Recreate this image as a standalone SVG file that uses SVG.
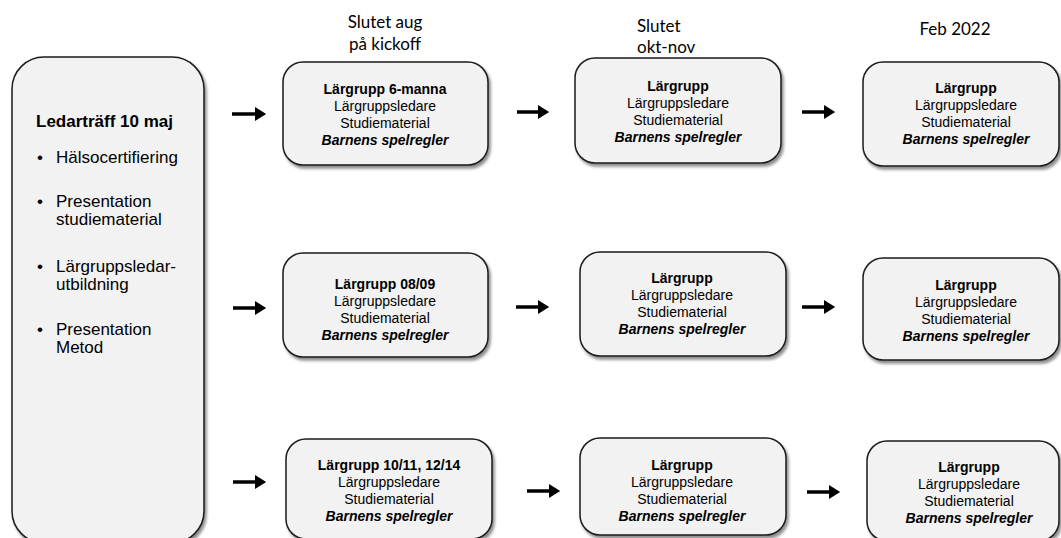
<svg xmlns="http://www.w3.org/2000/svg" width="1061" height="538" viewBox="0 0 1061 538">
<defs>
<filter id="sh" x="-10%" y="-10%" width="125%" height="125%">
<feGaussianBlur in="SourceAlpha" stdDeviation="1.5"/>
<feOffset dx="1.5" dy="2.5" result="b"/>
<feComponentTransfer><feFuncA type="linear" slope="0.45"/></feComponentTransfer>
<feMerge><feMergeNode/><feMergeNode in="SourceGraphic"/></feMerge>
</filter>
<marker id="ah" markerWidth="4" markerHeight="4" refX="0" refY="2" orient="auto" markerUnits="strokeWidth">
<path d="M0,0 L3.2,2 L0,4 Z" fill="#000"/>
</marker>
<style>
.box{fill:#f2f2f2;stroke:#1a1a1a;stroke-width:1.5;filter:url(#sh)}
.t{font-family:"Liberation Sans",Arial,sans-serif;font-size:14px;fill:#000;text-anchor:middle}
.b{font-weight:bold}
.bi{font-weight:bold;font-style:italic}
.h{font-family:Lato,"Open Sans",sans-serif;font-size:17px;fill:#000}
.l{font-family:"Liberation Sans",Arial,sans-serif;font-size:17px;fill:#000}
.arr{stroke:#000;stroke-width:3.5;fill:none;marker-end:url(#ah)}
</style>
</defs>
<rect width="1061" height="538" fill="#fff"/>

<g id="headers">
<text class="h" x="385" y="28" text-anchor="middle">Slutet aug</text>
<text class="h" x="385" y="50" text-anchor="middle">på kickoff</text>
<text class="h" x="637" y="32">Slutet</text>
<text class="h" x="637" y="53">okt-nov</text>
<text class="h" x="955" y="35" text-anchor="middle">Feb 2022</text>
</g>

<g id="ledartraff">
<rect class="box" x="12" y="57" width="192" height="486" rx="32"/>
<text class="l" x="36" y="127" font-weight="bold">Ledarträff 10 maj</text>
<text class="l" x="37" y="163">•</text><text class="l" x="56" y="163">Hälsocertifiering</text>
<text class="l" x="37" y="207">•</text><text class="l" x="56" y="207">Presentation</text>
<text class="l" x="56" y="225">studiematerial</text>
<text class="l" x="37" y="272">•</text><text class="l" x="56" y="272">Lärgruppsledar-</text>
<text class="l" x="56" y="290">utbildning</text>
<text class="l" x="37" y="335">•</text><text class="l" x="56" y="335">Presentation</text>
<text class="l" x="56" y="353">Metod</text>
</g>

<g id="a1">
<rect class="box" x="283" y="62" width="205" height="103" rx="20"/>
<text class="t b" x="385" y="94">Lärgrupp 6-manna</text>
<text class="t" x="385" y="111">Lärgruppsledare</text>
<text class="t" x="385" y="128">Studiematerial</text>
<text class="t bi" x="385" y="145">Barnens spelregler</text>
</g>
<g id="b1">
<rect class="box" x="575" y="58" width="206" height="105" rx="20"/>
<text class="t b" x="678" y="91">Lärgrupp</text>
<text class="t" x="678" y="108">Lärgruppsledare</text>
<text class="t" x="678" y="125">Studiematerial</text>
<text class="t bi" x="678" y="142">Barnens spelregler</text>
</g>
<g id="c1">
<rect class="box" x="863" y="62" width="196" height="104" rx="20"/>
<text class="t b" x="966" y="93">Lärgrupp</text>
<text class="t" x="966" y="110">Lärgruppsledare</text>
<text class="t" x="966" y="127">Studiematerial</text>
<text class="t bi" x="966" y="144">Barnens spelregler</text>
</g>

<g id="a2">
<rect class="box" x="283" y="253" width="205" height="104" rx="20"/>
<text class="t b" x="385" y="289">Lärgrupp 08/09</text>
<text class="t" x="385" y="306">Lärgruppsledare</text>
<text class="t" x="385" y="323">Studiematerial</text>
<text class="t bi" x="385" y="340">Barnens spelregler</text>
</g>
<g id="b2">
<rect class="box" x="580" y="252" width="206" height="104" rx="20"/>
<text class="t b" x="682" y="283">Lärgrupp</text>
<text class="t" x="682" y="300">Lärgruppsledare</text>
<text class="t" x="682" y="317">Studiematerial</text>
<text class="t bi" x="682" y="334">Barnens spelregler</text>
</g>
<g id="c2">
<rect class="box" x="863" y="258" width="196" height="102" rx="20"/>
<text class="t b" x="966" y="290">Lärgrupp</text>
<text class="t" x="966" y="307">Lärgruppsledare</text>
<text class="t" x="966" y="324">Studiematerial</text>
<text class="t bi" x="966" y="341">Barnens spelregler</text>
</g>

<g id="a3">
<rect class="box" x="286" y="439" width="206" height="100" rx="20"/>
<text class="t b" x="389" y="470">Lärgrupp 10/11, 12/14</text>
<text class="t" x="389" y="487">Lärgruppsledare</text>
<text class="t" x="389" y="504">Studiematerial</text>
<text class="t bi" x="389" y="521">Barnens spelregler</text>
</g>
<g id="b3">
<rect class="box" x="580" y="438" width="206" height="97" rx="20"/>
<text class="t b" x="682" y="470">Lärgrupp</text>
<text class="t" x="682" y="487">Lärgruppsledare</text>
<text class="t" x="682" y="504">Studiematerial</text>
<text class="t bi" x="682" y="521">Barnens spelregler</text>
</g>
<g id="c3">
<rect class="box" x="867" y="441" width="192" height="100" rx="20"/>
<text class="t b" x="969" y="472">Lärgrupp</text>
<text class="t" x="969" y="489">Lärgruppsledare</text>
<text class="t" x="969" y="506">Studiematerial</text>
<text class="t bi" x="969" y="523">Barnens spelregler</text>
</g>

<g id="connectors">
<line class="arr" x1="232" y1="114" x2="255" y2="114"/>
<line class="arr" x1="517" y1="112" x2="538" y2="112"/>
<line class="arr" x1="802" y1="112" x2="824" y2="112"/>
<line class="arr" x1="233" y1="308" x2="255" y2="308"/>
<line class="arr" x1="516" y1="307" x2="538" y2="307"/>
<line class="arr" x1="802" y1="307" x2="824" y2="307"/>
<line class="arr" x1="233" y1="482" x2="255" y2="482"/>
<line class="arr" x1="527" y1="491" x2="549" y2="491"/>
<line class="arr" x1="807" y1="492" x2="829" y2="492"/>
</g>
</svg>
